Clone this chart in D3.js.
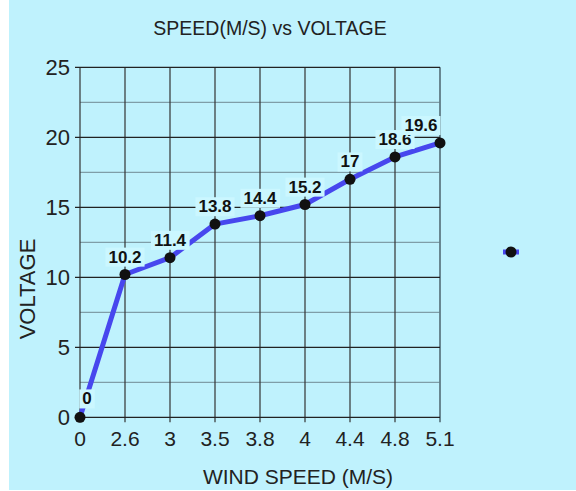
<!DOCTYPE html>
<html>
<head>
<meta charset="utf-8">
<script src="https://cdn.jsdelivr.net/npm/d3@7/dist/d3.min.js"></script>
<style>
html,body{margin:0;padding:0;background:#ffffff;}
svg{display:block;font-family:"Liberation Sans",Arial,sans-serif;}
</style>
</head>
<body>
<svg id="chart" width="576" height="491"></svg>
<script>
const categories = ["0","2.6","3","3.5","3.8","4","4.4","4.8","5.1"];
const voltage = [0,10.2,11.4,13.8,14.4,15.2,17,18.6,19.6];
const yTicks = [0,5,10,15,20,25];
const minorTicks = [2.5,7.5,12.5,17.5,22.5];
const labelText = ["0","10.2","11.4","13.8","14.4","15.2","17","18.6","19.6"];
const labelShift = [7,0,0,0,0,0,0,0,-19]; // horizontal nudge of data labels (px)
const labelLift = [19,18,18,18,18,18,18,18,18];

const svg = d3.select("#chart");
svg.append("rect").attr("x",9).attr("y",0).attr("width",567).attr("height",490).attr("fill","#bff2fd");

const pLeft=80,pRight=440,pTop=67.3,pBottom=417.3;
const x = d3.scalePoint().domain(categories).range([pLeft,pRight]);
const y = d3.scaleLinear().domain([0,25]).range([pBottom,pTop]);

// minor horizontal grid
svg.append("g").selectAll("line").data(minorTicks).join("line")
  .attr("x1",pLeft).attr("x2",pRight).attr("y1",d=>y(d)).attr("y2",d=>y(d))
  .attr("stroke","#7f9ea8").attr("stroke-width",1.2);
// vertical grid
svg.append("g").selectAll("line").data(categories).join("line")
  .attr("x1",d=>x(d)).attr("x2",d=>x(d)).attr("y1",pTop).attr("y2",pBottom+5)
  .attr("stroke",(d,i)=>i===categories.length-1?"#5f7c86":"#333").attr("stroke-width",(d,i)=>i===categories.length-1?1.8:1.2);
// major horizontal grid
svg.append("g").selectAll("line").data(yTicks).join("line")
  .attr("x1",pLeft-5).attr("x2",pRight).attr("y1",d=>y(d)).attr("y2",d=>y(d))
  .attr("stroke","#222").attr("stroke-width",1.3);

// y tick labels
svg.append("g").selectAll("text").data(yTicks).join("text")
  .attr("x",70).attr("y",d=>y(d)).attr("dy","0.36em").attr("text-anchor","end")
  .attr("font-size",22).attr("fill","#222").text(d=>d);
// x tick labels
svg.append("g").selectAll("text").data(categories).join("text")
  .attr("x",d=>x(d)).attr("y",438).attr("dy","0.36em").attr("text-anchor","middle")
  .attr("font-size",21).attr("fill","#222").text(d=>d);

// titles
svg.append("text").attr("x",270).attr("y",28).attr("dy","0.36em").attr("text-anchor","middle")
  .attr("font-size",19.5).attr("fill","#222").text("SPEED(M/S) vs VOLTAGE");
svg.append("text").attr("x",298).attr("y",476).attr("dy","0.36em").attr("text-anchor","middle")
  .attr("font-size",21).attr("fill","#222").text("WIND SPEED (M/S)");
svg.append("text").attr("transform","translate(27,289) rotate(-90)").attr("dy","0.36em").attr("text-anchor","middle")
  .attr("font-size",22).attr("fill","#222").text("VOLTAGE");

// line
const pts = categories.map((c,i)=>({c,v:voltage[i],i}));
svg.append("path").datum(pts)
  .attr("d",d3.line().x(d=>x(d.c)).y(d=>y(d.v)))
  .attr("fill","none").attr("stroke","#4747ee").attr("stroke-width",5).attr("stroke-linejoin","round");
svg.append("g").selectAll("circle").data(pts).join("circle")
  .attr("cx",d=>x(d.c)).attr("cy",d=>y(d.v)).attr("r",5.5).attr("fill","#111");

// data labels
const lg = svg.append("g").selectAll("g").data(pts).join("g")
  .attr("transform",d=>`translate(${x(d.c)+labelShift[d.i]},${y(d.v)-labelLift[d.i]})`);
lg.each(function(d){
  const g=d3.select(this);
  const t=g.append("text").attr("text-anchor","middle").attr("dy","0.36em")
    .attr("font-size",17).attr("font-weight","bold").attr("fill","#111").text(labelText[d.i]);
  const bb=t.node().getBBox();
  g.insert("rect","text").attr("x",bb.x-3).attr("y",bb.y).attr("width",bb.width+6).attr("height",bb.height)
    .attr("fill","#cbf7ff");
});

// legend marker
svg.append("line").attr("x1",503).attr("x2",519).attr("y1",252).attr("y2",252)
  .attr("stroke","#4747ee").attr("stroke-width",5);
svg.append("circle").attr("cx",511).attr("cy",252).attr("r",5.5).attr("fill","#111");
</script>
</body>
</html>
